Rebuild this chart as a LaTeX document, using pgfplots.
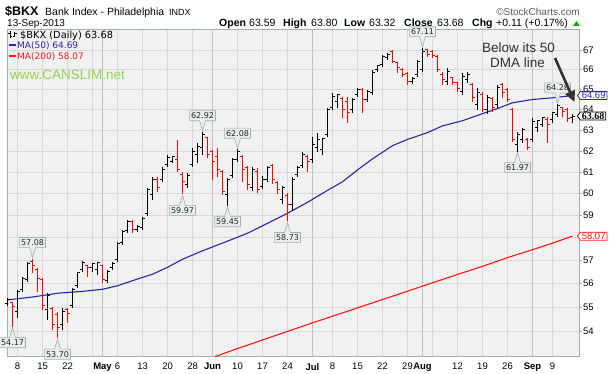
\documentclass[border=0pt]{standalone}
\usepackage{fontspec}
\setmainfont{Liberation Sans}
\newfontfamily\dv{DejaVu Sans}
\newfontfamily\lserif{Liberation Serif}
\usepackage{pgfplots}
\pgfplotsset{compat=1.18}
\usepackage{pgfplotstable}
\usetikzlibrary{shapes.callouts,shapes.symbols,arrows.meta}

\definecolor{plotbg}{RGB}{241,241,241}
\definecolor{gridc}{RGB}{216,216,216}
\definecolor{monthc}{RGB}{192,192,192}
\definecolor{framec}{RGB}{160,176,170}
\definecolor{maBlue}{RGB}{40,40,165}
\definecolor{maRed}{RGB}{255,20,20}
\definecolor{barRed}{RGB}{255,0,0}
\definecolor{canslim}{RGB}{145,212,80}
\definecolor{lblfill}{RGB}{234,238,238}
\definecolor{lbldraw}{RGB}{160,176,170}
\definecolor{annc}{RGB}{50,50,50}
\definecolor{upgreen}{RGB}{0,175,0}

\newcommand{\fsz}[1]{\fontsize{#1}{#1}\selectfont}

\pgfdeclareplotmark{otick}{\pgfpathmoveto{\pgfqpoint{-2.6pt}{0pt}}\pgfpathlineto{\pgfqpoint{0pt}{0pt}}\pgfusepathqstroke}
\pgfdeclareplotmark{ctick}{\pgfpathmoveto{\pgfqpoint{0pt}{0pt}}\pgfpathlineto{\pgfqpoint{2.6pt}{0pt}}\pgfusepathqstroke}

\pgfplotstableread{
i o h l c r
0 55.13 55.39 55.05 55.30 0
1 55.17 55.20 54.17 55.01 1
2 54.80 55.73 54.55 55.64 0
3 55.73 56.28 55.64 56.20 0
4 56.16 56.95 56.07 56.86 0
5 56.95 57.08 56.46 56.77 1
6 56.59 56.68 55.64 56.20 1
7 56.16 56.24 54.88 55.05 1
8 54.88 55.60 54.46 55.47 0
9 54.92 55.01 54.04 54.25 1
10 54.67 54.80 53.70 54.12 1
11 54.25 54.96 54.04 54.80 0
12 54.88 54.96 54.33 54.71 1
13 55.05 55.81 54.96 55.73 0
14 55.90 56.50 55.81 56.46 0
15 56.59 56.99 56.50 56.90 0
16 56.77 56.81 56.28 56.68 1
17 56.68 56.90 56.50 56.86 0
18 56.59 56.95 56.37 56.90 0
19 56.77 56.81 56.03 56.16 1
20 56.11 56.59 56.03 56.50 0
21 56.68 56.95 56.59 56.86 0
22 57.04 57.82 56.95 57.73 0
23 57.78 58.36 57.69 58.27 0
24 58.31 58.81 58.22 58.72 0
25 58.72 58.81 58.22 58.36 1
26 58.36 58.58 58.27 58.49 0
27 58.45 58.94 58.36 58.85 0
28 59.08 60.27 58.99 60.18 0
29 59.95 60.78 59.72 60.64 0
30 60.64 60.78 60.09 60.27 1
31 60.64 61.24 60.55 61.10 0
32 61.34 61.81 61.24 61.67 0
33 61.48 61.76 61.43 61.72 0
34 61.57 62.53 61.01 61.10 1
35 60.87 61.01 59.97 60.55 1
36 60.41 60.96 60.27 60.82 0
37 61.34 62.15 61.24 61.96 0
38 61.81 62.39 61.43 62.20 0
39 62.15 62.92 61.81 62.77 0
40 62.63 62.67 61.67 61.81 1
41 61.96 62.05 60.64 61.48 1
42 61.72 62.15 60.78 61.10 1
43 61.01 61.10 59.95 60.09 1
44 59.95 60.73 59.45 60.64 0
45 60.82 61.67 60.73 61.57 0
46 61.57 62.08 61.48 61.96 0
47 61.72 61.81 60.55 61.10 1
48 61.20 61.29 60.18 60.41 1
49 60.27 61.24 60.13 61.10 0
50 61.01 61.20 60.04 60.18 1
51 60.32 60.82 60.23 60.64 0
52 60.64 61.29 60.55 61.20 0
53 61.29 61.39 60.46 60.64 1
54 60.50 60.59 59.99 60.18 1
55 59.72 60.36 59.54 60.27 0
56 59.90 60.04 58.73 59.49 1
57 59.49 60.78 59.22 60.64 0
58 60.87 61.29 60.78 61.20 0
59 61.29 61.96 61.20 61.81 0
60 61.72 61.81 61.01 61.48 1
61 61.57 62.67 61.43 62.29 0
62 62.15 62.87 61.96 62.53 0
63 62.05 62.63 61.81 62.58 0
64 62.77 64.09 62.67 63.99 0
65 64.09 64.83 63.99 64.63 0
66 64.38 64.78 64.09 64.73 0
67 64.53 64.63 63.60 63.99 1
68 64.38 64.63 63.35 63.84 1
69 63.99 64.58 63.84 64.48 0
70 64.73 65.08 64.63 64.98 0
71 64.98 65.08 63.84 64.48 1
72 64.48 64.98 64.38 64.88 0
73 64.83 65.98 64.73 65.83 0
74 65.98 66.24 65.88 66.19 0
75 66.24 66.74 66.13 66.64 0
76 66.59 66.85 66.49 66.74 0
77 66.90 67.00 66.34 66.39 1
78 66.34 66.39 65.83 66.08 1
79 65.98 66.08 65.63 65.73 1
80 65.78 65.88 65.23 65.38 1
81 65.38 65.63 65.28 65.53 0
82 65.73 66.49 65.63 66.39 0
83 65.98 67.11 65.88 66.90 0
84 67.00 67.05 66.64 66.74 1
85 66.90 67.00 66.59 66.69 1
86 66.64 66.74 65.88 65.98 1
87 65.73 65.88 65.23 65.48 1
88 65.38 66.08 65.23 65.88 0
89 65.58 65.63 65.23 65.33 1
90 65.33 65.38 64.88 65.03 1
91 64.88 65.83 64.73 65.63 0
92 65.48 65.88 65.33 65.73 0
93 65.23 65.33 64.38 64.58 1
94 64.24 65.08 63.99 64.83 0
95 64.73 64.88 63.89 63.99 1
96 63.99 64.73 63.79 64.58 0
97 64.53 64.63 63.89 64.09 1
98 64.24 65.23 64.09 65.08 0
99 65.23 65.33 64.58 64.83 1
100 64.98 65.08 64.38 64.48 1
101 63.99 64.09 62.43 62.53 1
102 62.29 62.91 61.97 62.77 0
103 62.53 63.11 62.39 63.01 0
104 62.53 62.63 62.05 62.15 1
105 62.53 63.60 62.43 63.40 0
106 63.11 63.50 62.91 63.45 0
107 63.25 63.64 63.16 63.60 0
108 63.50 63.64 62.39 63.25 1
109 63.50 63.89 63.35 63.84 0
110 63.74 64.28 63.64 64.19 0
111 64.09 64.14 63.64 63.89 1
112 63.99 64.09 63.40 63.57 1
113 63.59 63.80 63.32 63.68 0
}\ohlc

\pgfplotstableread{
i v
0 55.30
5 55.42
10 55.58
15 55.66
19 55.75
22 55.90
25 56.12
29 56.40
32 56.70
35 57.05
39 57.42
44 57.85
48 58.20
52 58.65
56 59.10
60 59.60
64 60.15
67 60.55
70 61.10
73 61.62
77 62.25
80 62.55
84 62.88
87 63.20
91 63.45
95 63.80
98 64.05
101 64.33
105 64.50
109 64.58
113 64.69
}\mafifty

\pgfplotstableread{
i v
41.5 52.94
45 53.20
50 53.55
60 54.26
70 54.96
80 55.67
90 56.39
95 56.74
100 57.12
105 57.47
109 57.76
113 58.07
}\matwohundred

\tikzset{
  vlab/.style={rectangle callout, draw=lbldraw, fill=lblfill, line width=0.6pt,
    font=\dv\fsz{8}, text=black!85, inner xsep=1.5pt, inner ysep=2pt,
    callout pointer width=6pt},
  vabove/.style={vlab, callout relative pointer={(0,-10pt)}, anchor=pointer},
  vbelow/.style={vlab, callout relative pointer={(0,10pt)}, anchor=pointer},
  tag/.style={signal, signal to=west, signal pointer angle=110, fill=white,
    line width=0.8pt, inner xsep=1.5pt, inner ysep=0.6pt, anchor=west, font=\fsz{9.5}}
}

\begin{document}
\begin{tikzpicture}
\begin{axis}[
  at={(7.3pt,16.3pt)}, anchor=south west,
  scale only axis, width=571.7pt, height=327.4pt,
  xmin=-0.05, xmax=114.3,
  ymode=log, ymin=52.94, ymax=68.07,
  clip=false,
  axis background/.style={fill=plotbg},
  axis line style={draw=framec, line width=0.8pt},
  /pgf/number format/assume math mode=true,
  ytick={54,55,56,57,58,59,60,61,62,63,64,65,66,67},
  yticklabels={54,55,56,57,{},59,60,61,62,63,64,65,66,67},
  minor ytick={},
  ytick pos=right, yticklabel pos=right,
  ymajorgrids, major grid style={gridc, line width=0.6pt},
  tick align=outside, major tick length=3pt, minor tick length=0pt,
  ytick style={draw=framec, line width=0.6pt},
  y tick label style={font=\fsz{9.5}, anchor=west, inner xsep=1pt, inner ysep=0pt},
  xtick pos=bottom,
  xtick={2,7,12,19,22,27,32,37,41,46,51,56,61,65,70,75,80,83,90,95,100,105,109},
  xticklabels={8,15,22,\textbf{May},6,13,20,28,\textbf{Jun},10,17,24,\textbf{Jul},8,15,22,29,\textbf{Aug},12,19,26,\textbf{Sep},9},
  xtick style={draw=none},
  x tick label style={font=\fsz{9.5}},
  minor xtick={2,7,12,17,22,27,32,37,46,51,56,65,70,75,80,85,90,95,100,109},
  xminorgrids, minor grid style={gridc, line width=0.6pt},
  extra x ticks={19,41,61,83,105},
  extra x tick labels={},
  extra x tick style={grid=major, major grid style={monthc, line width=0.8pt}, tick style={draw=none}},
]
% moving averages
\addplot[maRed, line width=1.1pt] table[x=i,y=v]{\matwohundred};
\addplot[maBlue, line width=1.1pt] table[x=i,y=v]{\mafifty};

% black bars
\addplot[draw=none, mark=none,
  restrict expr to domain={\thisrow{r}}{0:0.5},
  error bars/.cd, y dir=plus, y explicit, error mark=none,
  error bar style={draw=black, line width=1pt}]
  table[x=i, y=l, y error expr=\thisrow{h}-\thisrow{l}]{\ohlc};
\addplot[black, line width=1pt, only marks, mark=otick,
  restrict expr to domain={\thisrow{r}}{0:0.5}] table[x=i,y=o]{\ohlc};
\addplot[black, line width=1pt, only marks, mark=ctick,
  restrict expr to domain={\thisrow{r}}{0:0.5}] table[x=i,y=c]{\ohlc};
% red bars
\addplot[draw=none, mark=none,
  restrict expr to domain={\thisrow{r}}{0.5:1},
  error bars/.cd, y dir=plus, y explicit, error mark=none,
  error bar style={draw=barRed, line width=1pt}]
  table[x=i, y=l, y error expr=\thisrow{h}-\thisrow{l}]{\ohlc};
\addplot[barRed, line width=1pt, only marks, mark=otick,
  restrict expr to domain={\thisrow{r}}{0.5:1}] table[x=i,y=o]{\ohlc};
\addplot[barRed, line width=1pt, only marks, mark=ctick,
  restrict expr to domain={\thisrow{r}}{0.5:1}] table[x=i,y=c]{\ohlc};

\coordinate (v1) at (axis cs:1,54.17);
\coordinate (v2) at (axis cs:5,57.08);
\coordinate (v3) at (axis cs:10,53.70);
\coordinate (v4) at (axis cs:39,62.92);
\coordinate (v5) at (axis cs:35,59.97);
\coordinate (v6) at (axis cs:46,62.08);
\coordinate (v7) at (axis cs:44,59.45);
\coordinate (v8) at (axis cs:56,58.73);
\coordinate (v9) at (axis cs:83,67.11);
\coordinate (v10) at (axis cs:102,61.97);
\coordinate (v11) at (axis cs:110,64.28);
\coordinate (t1) at (axis cs:114.3,64.69);
\coordinate (t2) at (axis cs:114.3,63.68);
\coordinate (t3) at (axis cs:114.3,58.07);
\end{axis}

% value labels
\node[vbelow] at (v1) {54.17};
\node[vabove] at (v2) {57.08};
\node[vbelow] at (v3) {53.70};
\node[vabove] at (v4) {62.92};
\node[vbelow] at (v5) {59.97};
\node[vabove] at (v6) {62.08};
\node[vbelow] at (v7) {59.45};
\node[vbelow] at (v8) {58.73};
\node[vabove] at (v9) {67.11};
\node[vbelow] at (v10) {61.97};
\node[vabove] at (v11) {64.28};

% right tags
\node[tag, draw=maBlue, text=maBlue] at ([xshift=-2pt]t1) {64.69};
\node[tag, draw=black, text=black, font=\lserif\bfseries\fsz{10}] at ([xshift=-2pt]t2) {63.68};
\node[tag, draw=maRed, text=maRed] at ([xshift=-2pt]t3) {58.07};

% header
\node[anchor=base west, inner sep=0pt, font=\bfseries\fsz{12.5}] at (5pt,357pt) {\$BKX};
\node[anchor=base west, inner sep=0pt, font=\fsz{10.5}] at (45pt,357pt) {Bank Index - Philadelphia};
\node[anchor=base west, inner sep=0pt, font=\fsz{9}] at (169pt,357pt) {INDX};
\node[anchor=base east, inner sep=0pt, font=\fsz{10}, text=black!65] at (580pt,357pt) {\textcopyright StockCharts.com};
\node[anchor=base west, inner sep=0pt, font=\fsz{10}] at (7pt,346pt) {13-Sep-2013};
\begin{scope}[every node/.style={anchor=base west, inner sep=0pt, font=\fsz{10.5}}]
\node at (219pt,346pt) {\textbf{Open}};
\node at (249pt,346pt) {63.59};
\node at (283pt,346pt) {\textbf{High}};
\node at (311pt,346pt) {63.80};
\node at (344pt,346pt) {\textbf{Low}};
\node at (369pt,346pt) {63.32};
\node at (404pt,346pt) {\textbf{Close}};
\node at (437pt,346pt) {63.68};
\node at (472pt,346pt) {\textbf{Chg}};
\node at (496pt,346pt) {+0.11 (+0.17\%)};
\end{scope}
\fill[upgreen] (573pt,347pt) -- (580pt,347pt) -- (576.5pt,352pt) -- cycle;

% in-plot legend
\draw[black, line width=0.8pt] (10pt,342pt) -- (10pt,335pt) (8pt,340pt) -- (10pt,340pt) (10pt,337pt) -- (12pt,337pt);
\draw[black, line width=0.8pt] (14.5pt,341pt) -- (14.5pt,335.5pt) (12.5pt,336.5pt) -- (14.5pt,336.5pt) (14.5pt,340pt) -- (16.5pt,340pt);
\node[anchor=base west, inner sep=0pt, font=\dv\fsz{9.8}] at (20pt,334.5pt) {\$BKX (Daily) 63.68};
\draw[maBlue, line width=2pt] (8.5pt,327.5pt) -- (15.5pt,327.5pt);
\node[anchor=base west, inner sep=0pt, font=\dv\fsz{9}, text=maBlue] at (17pt,324pt) {MA(50) 64.69};
\draw[maRed, line width=2pt] (8.5pt,316.5pt) -- (15.5pt,316.5pt);
\node[anchor=base west, inner sep=0pt, font=\dv\fsz{9}, text=maRed] at (17pt,313pt) {MA(200) 58.07};
\node[anchor=base west, inner sep=0pt, font=\fsz{13.5}, text=canslim] at (10pt,293pt) {www.CANSLIM.net};

% annotation
\node[anchor=base, inner sep=0pt, font=\fsz{13.5}, text=annc] at (518.5pt,320pt) {Below its 50};
\node[anchor=base, inner sep=0pt, font=\fsz{13.5}, text=annc] at (517.5pt,305pt) {DMA line};
\draw[annc, line width=2.6pt, -{Triangle[length=11pt,width=10pt]}] (555pt,315pt) -- (574.5pt,271pt);

\pgfresetboundingbox
\useasboundingbox (0,0) rectangle (614pt,373pt);
\end{tikzpicture}
\end{document}
